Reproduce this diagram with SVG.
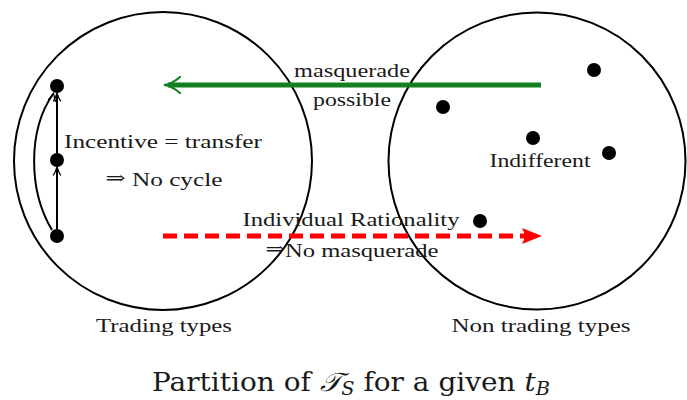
<svg xmlns="http://www.w3.org/2000/svg" width="687" height="400" viewBox="0 0 687 400">
<style>
.c{fill:none;stroke:#000;stroke-width:2}
.d{fill:#000}
.t{font-family:"Liberation Serif","DejaVu Serif",serif;font-size:19px;fill:#1a1a1a}
.cap{font-family:"DejaVu Serif",serif;font-size:26px;fill:#1a1a1a}
.a{font-family:"DejaVu Serif",serif;font-size:18px}
.k{fill:none;stroke:#000;stroke-width:2}
.h{fill:none;stroke:#000;stroke-width:1.3;stroke-linecap:round;stroke-linejoin:round}
</style>
<rect width="687" height="400" fill="#fff"/>
<g id="trading">
<circle class="c" cx="163" cy="161" r="149"/>
<text class="t" x="164" y="332" text-anchor="middle" textLength="136" lengthAdjust="spacingAndGlyphs">Trading types</text>
</g>
<g id="nontrading">
<circle class="c" cx="537" cy="161" r="148.5"/>
<text class="t" x="541" y="332" text-anchor="middle" textLength="179" lengthAdjust="spacingAndGlyphs">Non trading types</text>
</g>
<g id="t1"><circle class="d" cx="57" cy="86" r="7"/></g>
<g id="t2"><circle class="d" cx="57" cy="160" r="7"/></g>
<g id="t3"><circle class="d" cx="57" cy="236" r="7"/></g>
<g id="n1"><circle class="d" cx="594" cy="70" r="7"/></g>
<g id="n2"><circle class="d" cx="443" cy="107" r="7"/></g>
<g id="n3"><circle class="d" cx="533" cy="138" r="7"/></g>
<g id="n4"><circle class="d" cx="609" cy="153" r="7"/></g>
<g id="n5"><circle class="d" cx="480" cy="221" r="7"/></g>
<g id="labels">
<text class="t" x="163" y="148" text-anchor="middle" textLength="198" lengthAdjust="spacingAndGlyphs">Incentive = transfer</text>
<text class="t" x="164" y="186" text-anchor="middle" textLength="117" lengthAdjust="spacingAndGlyphs"><tspan class="a" dy="-2">⇒</tspan><tspan dy="2">  No cycle</tspan></text>
<text class="t" x="540" y="167" text-anchor="middle" textLength="101" lengthAdjust="spacingAndGlyphs">Indifferent</text>
<text class="t" x="352" y="77" text-anchor="middle" textLength="116" lengthAdjust="spacingAndGlyphs">masquerade</text>
<text class="t" x="352" y="106" text-anchor="middle" textLength="78" lengthAdjust="spacingAndGlyphs">possible</text>
<text class="t" x="351" y="226" text-anchor="middle" textLength="217" lengthAdjust="spacingAndGlyphs">Individual Rationality</text>
<text class="t" x="352" y="257" text-anchor="middle" textLength="173" lengthAdjust="spacingAndGlyphs"><tspan class="a" dy="-2">⇒</tspan><tspan dy="2">No masquerade</tspan></text>
</g>
<g id="connectors">
<line class="k" x1="57" y1="229" x2="57" y2="168"/>
<path class="h" d="M53.5,175 Q56,171 57,167 Q58,171 60.5,175"/>
<line class="k" x1="57" y1="153" x2="57" y2="94"/>
<path class="h" d="M53.5,101 Q56,97 57,93 Q58,97 60.5,101"/>
<path class="k" d="M52,230 C28,190 28,130 53,94"/>
<path class="h" d="M48.5,99.5 Q51.5,97 53.5,93 Q54,97 55.5,101.5"/>
<line x1="541" y1="85" x2="168" y2="85" stroke="#138020" stroke-width="5"/>
<path d="M180,77 Q172,84 164,85 Q172,86 180,93" fill="none" stroke="#138020" stroke-width="2.2" stroke-linecap="round"/>
<line x1="163" y1="236" x2="528" y2="236" stroke="#ff0000" stroke-width="5" stroke-dasharray="14 7"/>
<path d="M542,236 L522,228 Q527,236 522,244 Z" fill="#ff0000"/>
</g>
<g id="caption">
<text class="cap" x="351" y="391" text-anchor="middle" textLength="398" lengthAdjust="spacingAndGlyphs">Partition of <tspan font-style="italic">𝒯</tspan><tspan font-style="italic" font-size="18" dy="4">S</tspan><tspan dy="-4"> for a given </tspan><tspan font-style="italic">t</tspan><tspan font-style="italic" font-size="18" dy="4">B</tspan></text>
</g>
</svg>
